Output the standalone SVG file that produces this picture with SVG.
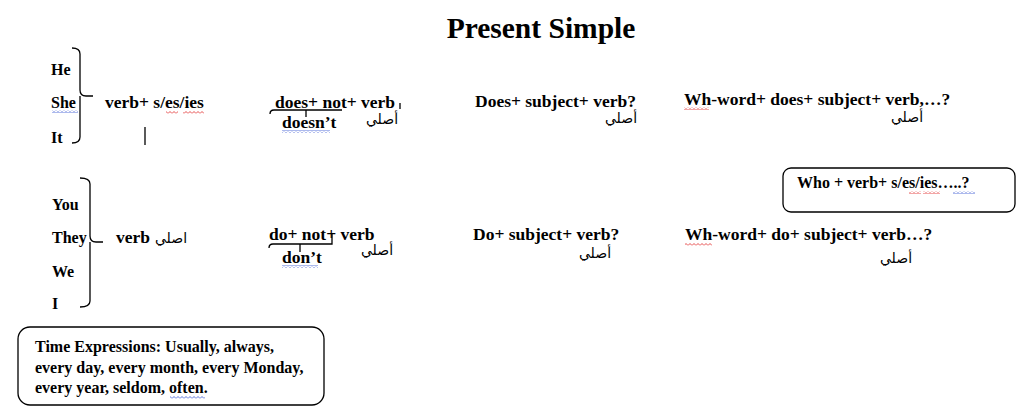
<svg xmlns="http://www.w3.org/2000/svg" width="1024" height="412" viewBox="0 0 1024 412">
<style>
.t{font-family:"Liberation Serif","Times New Roman",serif;font-weight:bold;font-size:17.5px;fill:#000}
.s{font-family:"Liberation Serif","Times New Roman",serif;font-weight:bold;font-size:16px;fill:#000}
.ar{font-family:"DejaVu Sans","Noto Sans",sans-serif;font-size:14px;fill:#000;text-anchor:middle}
.ln{fill:none;stroke:#000;stroke-width:1.3}
.box{fill:#fff;stroke:#000;stroke-width:1.3}
</style>
<defs>
<pattern id="sqR" width="4" height="3" patternUnits="userSpaceOnUse"><path d="M0,2.5 L2,0.5 L4,2.5" fill="none" stroke="#e02020" stroke-width="0.8"/></pattern>
<pattern id="sqB" width="4" height="3" patternUnits="userSpaceOnUse"><path d="M0,2.5 L2,0.5 L4,2.5" fill="none" stroke="#3050d0" stroke-width="0.8"/></pattern>
</defs>
<rect width="1024" height="412" fill="#fff"/>

<g id="title"><text x="541" y="38" text-anchor="middle" style="font-family:'Liberation Serif','Times New Roman',serif;font-weight:bold;font-size:29.5px">Present Simple</text></g>

<g id="subjects-1">
<text class="s" x="51" y="75">He</text>
<text class="s" x="51" y="108">She</text>
<text class="s" x="51" y="143">It</text>
</g>
<g id="subjects-2">
<text class="s" x="52" y="210">You</text>
<text class="s" x="52" y="243">They</text>
<text class="s" x="52" y="277">We</text>
<text class="s" x="52" y="309">I</text>
</g>

<g id="affirmative-1"><text class="t" x="105" y="108">verb+ s/es/ies</text></g>
<g id="affirmative-2"><text class="t" x="116" y="243">verb</text><text class="ar" x="171" y="243">اصلي</text></g>

<g id="negative-1">
<text class="t" x="275" y="108">does+ not+ verb</text>
<text class="t" x="282" y="128">doesn’t</text>
<text class="ar" x="382" y="124">أصلي</text>
</g>
<g id="negative-2">
<text class="t" x="269" y="240">do+ not+ verb</text>
<text class="t" x="282" y="263">don’t</text>
<text class="ar" x="377" y="255">أصلي</text>
</g>

<g id="question-1">
<text class="t" x="475" y="107">Does+ subject+ verb?</text>
<text class="ar" x="621" y="123">أصلي</text>
</g>
<g id="question-2">
<text class="t" x="473" y="240">Do+ subject+ verb?</text>
<text class="ar" x="595" y="258">أصلي</text>
</g>

<g id="wh-question-1">
<text class="t" x="684" y="105">Wh-word+ does+ subject+ verb,…?</text>
<text class="ar" x="907" y="122">أصلي</text>
</g>
<g id="wh-question-2">
<text class="t" x="685" y="240">Wh-word+ do+ subject+ verb…?</text>
<text class="ar" x="896" y="263">أصلي</text>
</g>

<g id="who-box">
<rect class="box" x="783" y="168" width="232" height="44" rx="8"/>
<text class="s" x="797" y="188">Who + verb+ s/es/ies…..?</text>
</g>

<g id="time-box">
<rect class="box" x="18" y="327" width="306" height="78" rx="12"/>
<text class="s" x="35" y="352">Time Expressions: Usually, always,</text>
<text class="s" x="35" y="373">every day, every month, every Monday,</text>
<text class="s" x="35" y="393">every year, seldom, often.</text>
</g>

<g id="connectors">
<path class="ln" d="M72,48 Q80,48 80,54 V90 Q80,96 86,96 H93 M80,96 V137 Q80,143 72,143"/>
<path class="ln" d="M145,127 V145"/>
<path class="ln" d="M80,178 Q90,178 90,184 V236 Q90,242 96,242 H103 M90,242 V301 Q90,307 80,307"/>
<path class="ln" d="M270,114 Q270,110 274,110 H342 M306,110 V117 M400,103 V109"/>
<path class="ln" d="M269,248 Q269,244 273,244 H332 V234 M300,244 V252"/>
</g>

<g id="spelling-marks">
<rect x="52" y="110" width="26" height="3" fill="url(#sqB)"/>
<rect x="166" y="111" width="12" height="3" fill="url(#sqR)"/>
<rect x="183" y="111" width="21" height="3" fill="url(#sqR)"/>
<rect x="282" y="130" width="48" height="3" fill="url(#sqB)"/>
<rect x="684" y="107" width="25" height="3" fill="url(#sqR)"/>
<rect x="282" y="265" width="36" height="3" fill="url(#sqB)"/>
<rect x="685" y="243" width="27" height="3" fill="url(#sqR)"/>
<rect x="909" y="191" width="12" height="3" fill="url(#sqR)"/>
<rect x="923" y="191" width="17" height="3" fill="url(#sqR)"/>
<rect x="953" y="191" width="22" height="3" fill="url(#sqB)"/>
<rect x="170" y="396" width="35" height="3" fill="url(#sqB)"/>
</g>
</svg>
